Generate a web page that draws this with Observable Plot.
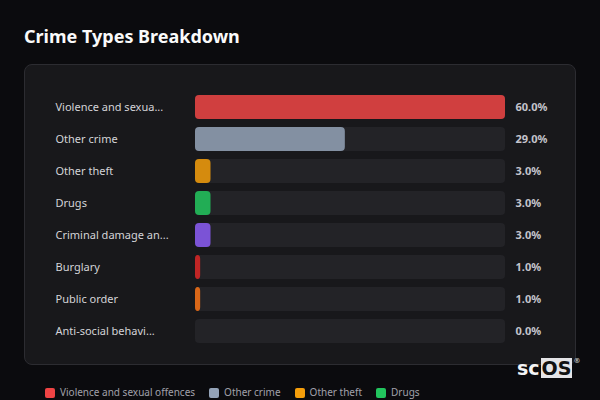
<!DOCTYPE html>
<html>
<head>
<meta charset="utf-8">
<script src="https://cdn.jsdelivr.net/npm/d3@7"></script>
<script src="https://cdn.jsdelivr.net/npm/@observablehq/plot@0.6"></script>
<style>
  html, body { margin: 0; padding: 0; background: #0b0b0e; }
  body { width: 600px; height: 400px; overflow: hidden; position: relative; font-family: "Noto Sans", "Open Sans", sans-serif; }
  #title { position: absolute; left: 24px; top: 24px; color: #fafafa; font-size: 18px; font-weight: 700; letter-spacing: 0; }
  #panel { position: absolute; left: 24px; top: 64px; width: 550px; height: 299px; background: #18181b; border: 1px solid #2c2c31; border-radius: 8px; }
  #chart { position: absolute; left: 24px; top: 64px; }
  #legend { position: absolute; left: 45px; top: 387px; width: 510px; display: flex; flex-wrap: wrap; column-gap: 14px; row-gap: 8px; font-size: 10px; color: #a1a1aa; }
  #legend .item { display: flex; align-items: center; gap: 5px; line-height: 11px; }
  #legend .sw { width: 10px; height: 10px; border-radius: 2px; }
  #logo { position: absolute; left: 517px; top: 358px; font-family: "DejaVu Sans", sans-serif; font-weight: 700; font-size: 19px; color: #f4f4f5; line-height: 20px; display: flex; align-items: flex-start; }
  #logo .box { background: #e4e4e7; color: #111; padding: 0 1px; margin-left: 1px; }
  #logo sup { font-size: 7px; line-height: 7px; color: #bbb; margin-left: 1px; }
</style>
</head>
<body>
<div id="title">Crime Types Breakdown</div>
<div id="panel"></div>
<div id="chart"></div>
<div id="logo"><span>sc</span><span class="box">OS</span><sup>®</sup></div>
<div id="legend"></div>
<script>
const categories = [
  "Violence and sexual offences",
  "Other crime",
  "Other theft",
  "Drugs",
  "Criminal damage and arson",
  "Burglary",
  "Public order",
  "Anti-social behaviour"
];
const values = [60.0, 29.0, 3.0, 3.0, 3.0, 1.0, 1.0, 0.0];
const palette = ["#ef4444", "#94a3b8", "#f59e0b", "#22c55e", "#8b5cf6", "#dc2626", "#f97316", "#3b82f6"];

const data = categories.map((c, i) => ({category: c, value: values[i], color: palette[i]}));
const maxV = d3.max(values);
const trunc = s => s.length > 18 ? s.slice(0, 18) + "..." : s;

const chart = Plot.plot({
  width: 552,
  height: 301,
  marginLeft: 171,
  marginRight: 71,
  marginTop: 27,
  marginBottom: 18,
  style: {background: "transparent", fontFamily: "'Noto Sans', 'Open Sans', sans-serif"},
  x: {domain: [0, maxV], axis: null},
  y: {domain: categories, axis: null, paddingInner: 0.25, paddingOuter: 0.125},
  marks: [
    Plot.barX(data, {x1: 0, x2: maxV, y: "category", fill: "#232327", rx: 4}),
    Plot.barX(data.filter(d => d.value > 0), {x1: 0, x2: "value", y: "category", fill: d => d.color, fillOpacity: 0.85, rx: 4}),
    Plot.text(data, {x: 0, y: "category", text: d => trunc(d.category), textAnchor: "start", dx: -140, fill: "#d4d4d8", fontSize: 11}),
    Plot.text(data, {x: maxV, y: "category", text: d => d.value.toFixed(1) + "%", textAnchor: "start", dx: 10, fill: "#c4c4cc", fontSize: 11, fontWeight: 700})
  ]
});
document.getElementById("chart").appendChild(chart);

const legend = document.getElementById("legend");
data.forEach(d => {
  const it = document.createElement("div");
  it.className = "item";
  const sw = document.createElement("span");
  sw.className = "sw";
  sw.style.background = d.color;
  const tx = document.createElement("span");
  tx.textContent = d.category;
  it.appendChild(sw); it.appendChild(tx);
  legend.appendChild(it);
});
</script>
</body>
</html>
